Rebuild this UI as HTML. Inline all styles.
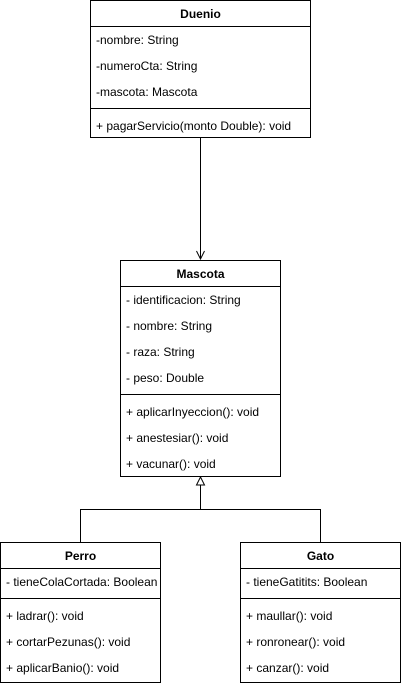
<!DOCTYPE html>
<html><head><meta charset="utf-8"><style>html,body{margin:0;padding:0;background:#fff}svg{display:block}</style></head>
<body>
<svg width="402" height="684" viewBox="0 0 402 684" xmlns="http://www.w3.org/2000/svg" font-family="Liberation Sans, Arial, sans-serif" font-size="12" fill="#000">
<g fill="none" stroke="#000" stroke-width="1">
<rect x="90.5" y="0.5" width="220" height="137"/>
<line x1="90.5" y1="26.5" x2="310.5" y2="26.5"/>
<line x1="90.5" y1="108.5" x2="310.5" y2="108.5"/>
<rect x="120.5" y="260.5" width="160" height="216"/>
<line x1="120.5" y1="286.5" x2="280.5" y2="286.5"/>
<line x1="120.5" y1="394.5" x2="280.5" y2="394.5"/>
<rect x="0.5" y="542.5" width="160" height="140"/>
<line x1="0.5" y1="568.5" x2="160.5" y2="568.5"/>
<line x1="0.5" y1="598.5" x2="160.5" y2="598.5"/>
<rect x="240.5" y="542.5" width="160" height="140"/>
<line x1="240.5" y1="568.5" x2="400.5" y2="568.5"/>
<line x1="240.5" y1="598.5" x2="400.5" y2="598.5"/>
<line x1="200.5" y1="138" x2="200.5" y2="259"/>
<polyline points="196.5,251 200.5,259 204.5,251"/>
<line x1="200.5" y1="485" x2="200.5" y2="509.5"/>
<polygon points="200.5,477 196.5,485 204.5,485"/>
<polyline points="80.5,542 80.5,509.5 320.5,509.5 320.5,542"/>
</g>
<g font-weight="bold" text-anchor="middle">
<text x="200.5" y="18">Duenio</text>
<text x="200.5" y="278">Mascota</text>
<text x="80.5" y="560">Perro</text>
<text x="320.5" y="560">Gato</text>
</g>
<text x="96" y="44">-nombre: String</text>
<text x="96" y="70">-numeroCta: String</text>
<text x="96" y="96">-mascota: Mascota</text>
<text x="96" y="130">+ pagarServicio(monto Double): void</text>
<text x="126" y="304">- identificacion: String</text>
<text x="126" y="330">- nombre: String</text>
<text x="126" y="356">- raza: String</text>
<text x="126" y="382">- peso: Double</text>
<text x="126" y="416">+ aplicarInyeccion(): void</text>
<text x="126" y="442">+ anestesiar(): void</text>
<text x="126" y="468">+ vacunar(): void</text>
<text x="6" y="586">- tieneColaCortada: Boolean</text>
<text x="6" y="620">+ ladrar(): void</text>
<text x="6" y="646">+ cortarPezunas(): void</text>
<text x="6" y="672">+ aplicarBanio(): void</text>
<text x="246" y="586">- tieneGatitits: Boolean</text>
<text x="246" y="620">+ maullar(): void</text>
<text x="246" y="646">+ ronronear(): void</text>
<text x="246" y="672">+ canzar(): void</text>
</svg>
</body></html>
